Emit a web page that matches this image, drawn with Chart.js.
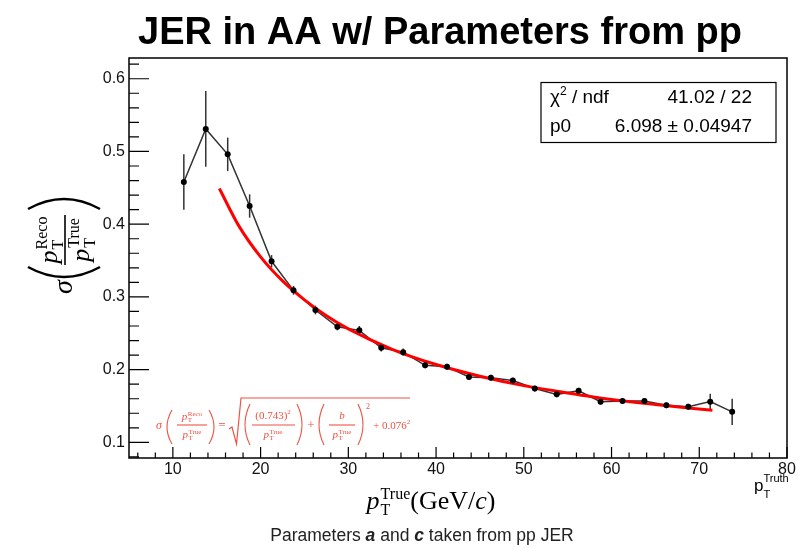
<!DOCTYPE html>
<html>
<head>
<meta charset="utf-8">
<script src="https://cdn.jsdelivr.net/npm/chart.js@4.4.0/dist/chart.umd.min.js"></script>
<style>
  html, body { margin: 0; padding: 0; background: #fff; }
  #wrap { width: 799px; height: 548px; }
</style>
</head>
<body>
<div id="wrap"><canvas id="c" width="799" height="548"></canvas></div>
<script>
const ptBins = [11.25, 13.75, 16.25, 18.75, 21.25, 23.75, 26.25, 28.75, 31.25, 33.75, 36.25, 38.75, 41.25,
  43.75, 46.25, 48.75, 51.25, 53.75, 56.25, 58.75, 61.25, 63.75, 66.25, 68.75, 71.25, 73.75];
const jerValues = [0.458, 0.531, 0.496, 0.425, 0.349, 0.309, 0.282, 0.259, 0.254, 0.230, 0.224, 0.206, 0.204,
  0.190, 0.189, 0.185, 0.174, 0.166, 0.171, 0.156, 0.157, 0.157, 0.151, 0.149, 0.156, 0.142];
const jerErrors = [0.038, 0.052, 0.023, 0.016, 0.0085, 0.006, 0.006, 0.005, 0.006, 0.005, 0.005, 0.004, 0.004,
  0.004, 0.004, 0.004, 0.004, 0.004, 0.004, 0.004, 0.004, 0.004, 0.004, 0.004, 0.011, 0.018];

// red fit curve
const fitPt = [15.3, 17.5, 20, 22.5, 25, 27.5, 30, 35, 40, 45, 50, 55, 60, 65, 71.5];
const fitJer = [0.449, 0.398, 0.355, 0.322, 0.296, 0.274, 0.256, 0.228, 0.207, 0.191, 0.178, 0.168, 0.159, 0.152, 0.144];

const xTickLabels = [10, 20, 30, 40, 50, 60, 70, 80];
const yTickLabels = [0.1, 0.2, 0.3, 0.4, 0.5, 0.6];
const statsRows = [["χ", "2", " / ndf", "41.02 / 22"], ["p0", "", "", "6.098 ± 0.04947"]];

const SANS = '"Liberation Sans", Arial, Helvetica, sans-serif';
const SERIF = '"Liberation Serif", "Times New Roman", serif';
const FORMULA_RED = 'rgb(238,82,66)';

function runW(ctx, r) {
  if (r.sup) return Math.max(runW(ctx, r.sup), runW(ctx, r.sub));
  ctx.font = r.f;
  return ctx.measureText(r.t).width + (r.gap || 0);
}

function drawRuns(ctx, x, y, runs, align) {
  const total = runs.reduce((s, r) => s + runW(ctx, r), 0);
  let cx = align === 'center' ? x - total / 2 : align === 'right' ? x - total : x;
  ctx.textAlign = 'left';
  ctx.textBaseline = 'alphabetic';
  runs.forEach(r => {
    const parts = r.sup ? [r.sup, r.sub] : [r];
    parts.forEach(p => {
      ctx.font = p.f;
      ctx.fillText(p.t, cx, y + (p.dy || 0));
    });
    cx += runW(ctx, r);
  });
  return total;
}

// p_T with a superscript label
function pT(size, label) {
  const s2 = Math.round(size * 0.6);
  return [
    { t: 'p', f: `italic ${size}px ${SERIF}`, gap: size * 0.04 },
    { sup: { t: label, f: `${s2}px ${SERIF}`, dy: -size * 0.4 },
      sub: { t: 'T', f: `${s2}px ${SERIF}`, dy: size * 0.22 } }
  ];
}

function paren(ctx, x0, y0, xc, y1) {
  ctx.beginPath();
  ctx.moveTo(x0, y0);
  ctx.quadraticCurveTo(xc, (y0 + y1) / 2, x0, y1);
  ctx.stroke();
}

const rootDecor = {
  id: 'rootDecor',
  beforeDatasetsDraw(chart) {
    const { ctx, scales: { x, y } } = chart;
    ctx.save();
    ctx.strokeStyle = '#333';
    ctx.lineWidth = 1.5;
    ptBins.forEach((pt, i) => {
      const px = x.getPixelForValue(pt);
      ctx.beginPath();
      ctx.moveTo(px, y.getPixelForValue(jerValues[i] - jerErrors[i]));
      ctx.lineTo(px, y.getPixelForValue(jerValues[i] + jerErrors[i]));
      ctx.stroke();
    });
    ctx.restore();
  },
  afterDraw(chart) {
    const { ctx, chartArea: a, scales: { x, y } } = chart;
    ctx.save();

    // frame
    ctx.strokeStyle = '#000';
    ctx.lineWidth = 1.5;
    ctx.strokeRect(a.left, a.top, a.right - a.left, a.bottom - a.top);

    // ticks, drawn inside the frame like ROOT
    ctx.lineWidth = 1.2;
    ctx.beginPath();
    for (let k = 3; k <= 40; k++) {
      const v = k * 2;
      if (v < 5 || v > 80) continue;
      const px = x.getPixelForValue(v);
      const len = v % 10 === 0 ? 11 : 5.5;
      ctx.moveTo(px, a.bottom);
      ctx.lineTo(px, a.bottom - len);
    }
    for (let k = 4; k <= 31; k++) {
      const py = y.getPixelForValue(k * 0.02);
      const len = k % 5 === 0 ? 20 : 10;
      ctx.moveTo(a.left, py);
      ctx.lineTo(a.left + len, py);
    }
    ctx.stroke();

    // tick labels
    ctx.fillStyle = '#111';
    ctx.font = `16px ${SANS}`;
    ctx.textAlign = 'right';
    ctx.textBaseline = 'middle';
    yTickLabels.forEach(v => ctx.fillText(v.toFixed(1), a.left - 4, y.getPixelForValue(v)));
    ctx.textAlign = 'center';
    xTickLabels.forEach(v => ctx.fillText(String(v), x.getPixelForValue(v), 470));

    // title
    ctx.fillStyle = '#000';
    ctx.font = `bold 38px ${SANS}`;
    ctx.textAlign = 'center';
    ctx.textBaseline = 'alphabetic';
    ctx.fillText('JER in AA w/ Parameters from pp', 440, 44);

    // caption
    ctx.fillStyle = '#222';
    const cap = [
      { t: 'Parameters ', f: `17.5px ${SANS}` },
      { t: 'a', f: `italic bold 17.5px ${SANS}` },
      { t: ' and ', f: `17.5px ${SANS}` },
      { t: 'c', f: `italic bold 17.5px ${SANS}` },
      { t: ' taken from pp JER', f: `17.5px ${SANS}` }
    ];
    drawRuns(ctx, 422, 541, cap, 'center');

    // stats box
    ctx.fillStyle = '#fff';
    ctx.fillRect(541, 82.5, 235, 60);
    ctx.strokeStyle = '#000';
    ctx.lineWidth = 1.2;
    ctx.strokeRect(541, 82.5, 235, 60);
    ctx.fillStyle = '#000';
    statsRows.forEach((row, i) => {
      const by = 103 + i * 29;
      drawRuns(ctx, 550, by, [
        { t: row[0], f: `19px ${SANS}` },
        { t: row[1], f: `12px ${SANS}`, dy: -8 },
        { t: row[2], f: `19px ${SANS}` }
      ], 'left');
      ctx.font = `19px ${SANS}`;
      ctx.textAlign = 'right';
      ctx.fillText(row[3], 752, by);
    });

    // x axis title
    ctx.fillStyle = '#000';
    drawRuns(ctx, 431, 509, pT(26, 'True').concat([
      { t: '(GeV/', f: `26px ${SERIF}` },
      { t: 'c', f: `italic 26px ${SERIF}` },
      { t: ')', f: `26px ${SERIF}` }
    ]), 'center');

    // p_T^Truth at axis end
    drawRuns(ctx, 754, 491, [
      { t: 'p', f: `17px ${SANS}` },
      { sup: { t: 'Truth', f: `11px ${SANS}`, dy: -9 }, sub: { t: 'T', f: `11px ${SANS}`, dy: 7 } }
    ], 'left');

    // y axis title, rotated
    ctx.save();
    ctx.translate(65, 245);
    ctx.rotate(-Math.PI / 2);
    ctx.font = `italic 28px ${SERIF}`;
    ctx.textAlign = 'left';
    ctx.fillText('σ', -49, 7);
    drawRuns(ctx, 5, -8, pT(26, 'Reco'), 'center');
    drawRuns(ctx, 5, 24, pT(26, 'True'), 'center');
    ctx.lineWidth = 1.6;
    ctx.beginPath();
    ctx.moveTo(-20, 0);
    ctx.lineTo(30, 0);
    ctx.stroke();
    ctx.lineWidth = 2.4;
    ctx.beginPath();
    ctx.moveTo(-22, -37);
    ctx.quadraticCurveTo(-42, -1, -22, 35);
    ctx.moveTo(36, -37);
    ctx.quadraticCurveTo(56, -1, 36, 35);
    ctx.stroke();
    ctx.restore();

    // red resolution formula
    ctx.fillStyle = FORMULA_RED;
    ctx.strokeStyle = FORMULA_RED;
    ctx.font = `italic 12px ${SERIF}`;
    ctx.textAlign = 'left';
    ctx.fillText('σ', 156, 429);
    ctx.lineWidth = 1.1;
    paren(ctx, 172, 410, 162, 444);
    drawRuns(ctx, 192, 420, pT(11, 'Reco'), 'center');
    drawRuns(ctx, 192, 438, pT(11, 'True'), 'center');
    ctx.beginPath(); ctx.moveTo(177, 425); ctx.lineTo(207, 425); ctx.stroke();
    paren(ctx, 209, 410, 219, 444);
    ctx.font = `13px ${SERIF}`;
    ctx.textAlign = 'center';
    ctx.fillText('=', 222, 429);
    ctx.lineWidth = 1.2;
    ctx.beginPath();
    ctx.moveTo(229, 429); ctx.lineTo(232, 427); ctx.lineTo(236.5, 444);
    ctx.lineTo(241, 398); ctx.lineTo(410, 398);
    ctx.stroke();
    ctx.lineWidth = 1.1;
    paren(ctx, 250, 404, 240, 445);
    drawRuns(ctx, 273, 419, [
      { t: '(0.743)', f: `11px ${SERIF}` },
      { t: '2', f: `7px ${SERIF}`, dy: -5 }
    ], 'center');
    ctx.beginPath(); ctx.moveTo(252, 425); ctx.lineTo(295, 425); ctx.stroke();
    drawRuns(ctx, 273, 438, pT(11, 'True'), 'center');
    paren(ctx, 297, 404, 307, 445);
    ctx.font = `13px ${SERIF}`;
    ctx.textAlign = 'center';
    ctx.fillText('+', 311, 429);
    paren(ctx, 324, 404, 314, 445);
    ctx.font = `italic 11px ${SERIF}`;
    ctx.fillText('b', 342, 419);
    ctx.beginPath(); ctx.moveTo(329, 425); ctx.lineTo(355, 425); ctx.stroke();
    drawRuns(ctx, 342, 438, pT(11, 'True'), 'center');
    paren(ctx, 358, 404, 368, 445);
    ctx.font = `8px ${SERIF}`;
    ctx.textAlign = 'left';
    ctx.fillText('2', 366, 409);
    drawRuns(ctx, 373, 429, [
      { t: '+ 0.076', f: `11px ${SERIF}` },
      { t: '2', f: `7px ${SERIF}`, dy: -5 }
    ], 'left');

    ctx.restore();
  }
};

const pointData = ptBins.map((pt, i) => ({ x: pt, y: jerValues[i] }));
const fitData = fitPt.map((pt, i) => ({ x: pt, y: fitJer[i] }));

new Chart(document.getElementById('c'), {
  type: 'scatter',
  data: {
    datasets: [
      {
        label: 'markers',
        data: pointData,
        showLine: false,
        pointRadius: 3,
        pointBackgroundColor: '#000',
        pointBorderColor: '#000',
        pointBorderWidth: 0
      },
      {
        label: 'fit',
        data: fitData,
        showLine: true,
        borderColor: '#ff0000',
        borderWidth: 3,
        pointRadius: 0,
        cubicInterpolationMode: 'monotone',
        fill: false
      },
      {
        label: 'line',
        data: pointData,
        showLine: true,
        borderColor: '#333',
        borderWidth: 1.5,
        pointRadius: 0,
        fill: false
      }
    ]
  },
  options: {
    responsive: false,
    animation: false,
    devicePixelRatio: 1,
    layout: { padding: { left: 129, right: 12, top: 58, bottom: 90 } },
    plugins: { legend: { display: false }, tooltip: { enabled: false } },
    scales: {
      x: { type: 'linear', min: 5, max: 80, display: false },
      y: { type: 'linear', min: 0.0785, max: 0.6285, display: false }
    }
  },
  plugins: [rootDecor]
});
</script>
</body>
</html>
